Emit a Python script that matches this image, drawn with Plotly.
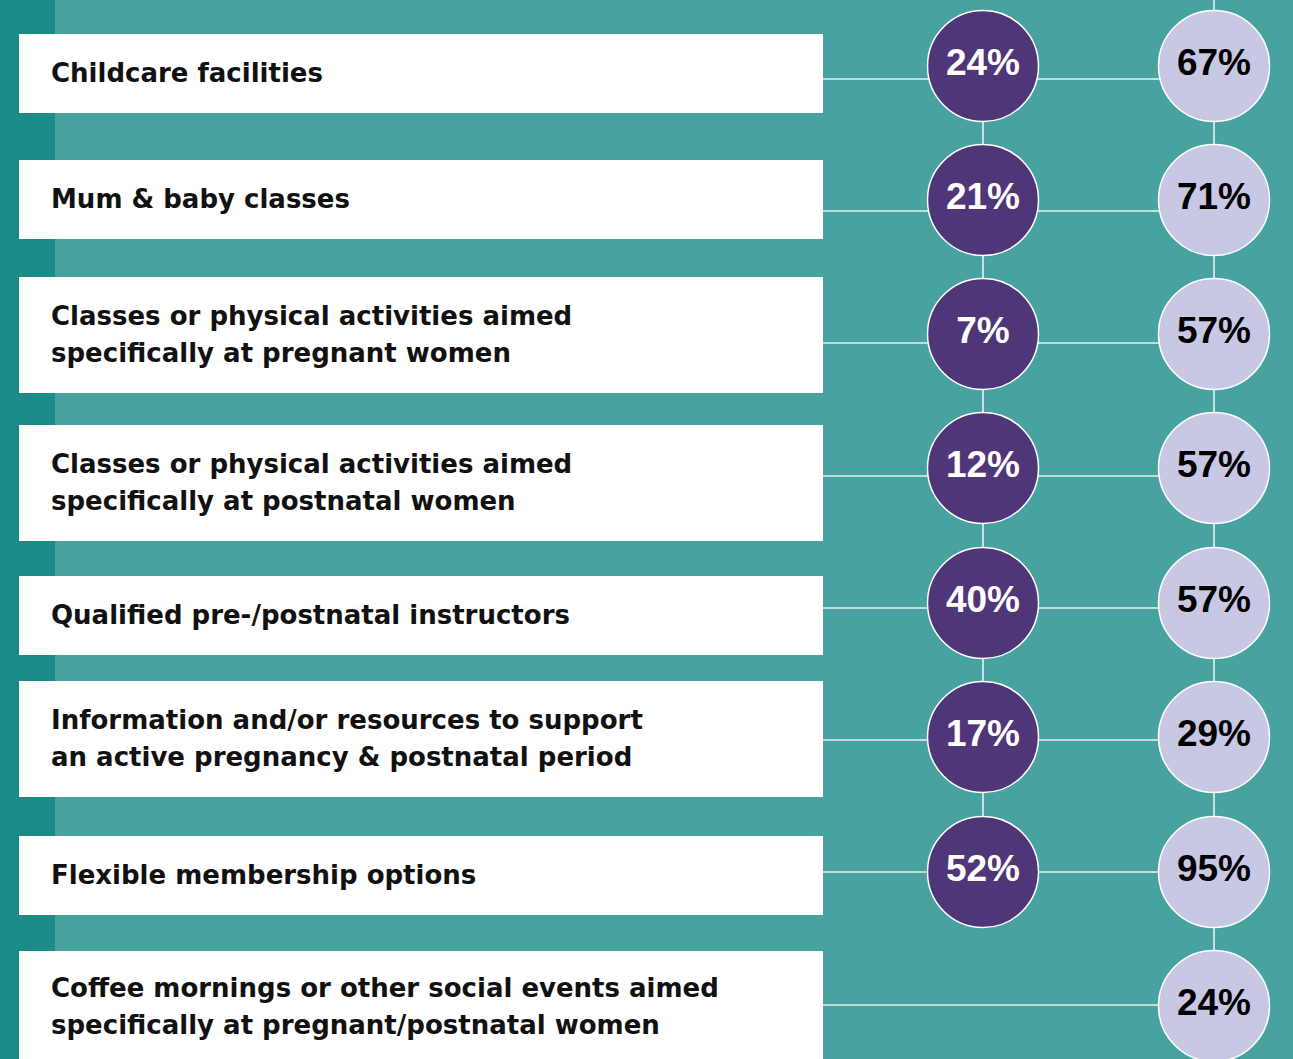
import plotly.graph_objects as go

# ---------------- data ----------------
categories = [
    "Childcare facilities",
    "Mum & baby classes",
    "Classes or physical activities aimed<br>specifically at pregnant women",
    "Classes or physical activities aimed<br>specifically at postnatal women",
    "Qualified pre-/postnatal instructors",
    "Information and/or resources to support<br>an active pregnancy & postnatal period",
    "Flexible membership options",
    "Coffee mornings or other social events aimed<br>specifically at pregnant/postnatal women",
]
pct_dark = [24, 21, 7, 12, 40, 17, 52, None]
pct_light = [67, 71, 57, 57, 57, 29, 95, 24]

# ---------------- layout constants (pixel space) ----------------
W, H = 1293, 1059
BG = "#48A3A0"
STRIP = "#1B8B88"
PURPLE = "#4F3679"
LAVENDER = "#C8C8E4"

box_top = [34, 160, 277, 425, 576, 681, 836, 951]
box_bot = [113, 239, 393, 541, 655, 797, 915, 1067]
line_y = [79, 211, 343, 476, 608, 740, 872, 1005]
circ_y = [66, 200, 334, 468, 603, 737, 872, 1006]
BOX_X0, BOX_X1 = 19, 823
COL1_X, COL2_X = 983, 1214
DIAM = 111
LINE_GAP = 37

fig = go.Figure()

shapes = [
    dict(type="rect", xref="x", yref="y", x0=0, x1=55, y0=-5, y1=H + 5,
         fillcolor=STRIP, line=dict(width=0), layer="below"),
]
for t, b in zip(box_top, box_bot):
    shapes.append(dict(type="rect", xref="x", yref="y", x0=BOX_X0, x1=BOX_X1,
                       y0=t, y1=b, fillcolor="white", line=dict(width=0), layer="below"))

# horizontal connector lines
for i, ly in enumerate(line_y):
    fig.add_trace(go.Scatter(x=[BOX_X1, COL2_X], y=[ly, ly], mode="lines",
                             line=dict(color="#E6F2F1", width=1.6),
                             hoverinfo="skip", showlegend=False))

# vertical connector lines
dark_rows = [i for i, v in enumerate(pct_dark) if v is not None]
fig.add_trace(go.Scatter(x=[COL1_X, COL1_X],
                         y=[circ_y[dark_rows[0]], circ_y[dark_rows[-1]]],
                         mode="lines", line=dict(color="#E6F2F1", width=1.6),
                         hoverinfo="skip", showlegend=False))
fig.add_trace(go.Scatter(x=[COL2_X, COL2_X], y=[-10, circ_y[len(pct_light) - 1]],
                         mode="lines", line=dict(color="#E6F2F1", width=1.6),
                         hoverinfo="skip", showlegend=False))

# dark circles
dx, dy, dt = [], [], []
for i, v in enumerate(pct_dark):
    if v is not None:
        dx.append(COL1_X)
        dy.append(circ_y[i])
        dt.append(f"{v}%")
fig.add_trace(go.Scatter(
    x=dx, y=dy, mode="markers+text", text=dt, textposition="middle center",
    marker=dict(size=DIAM, color=PURPLE, line=dict(color="white", width=1.5)),
    textfont=dict(family="Liberation Sans, Arial, sans-serif", size=37,
                  color="white", weight="bold"),
    hoverinfo="skip", showlegend=False))

# light circles
fig.add_trace(go.Scatter(
    x=[COL2_X] * len(pct_light), y=circ_y[:len(pct_light)],
    mode="markers+text", text=[f"{v}%" for v in pct_light],
    textposition="middle center",
    marker=dict(size=DIAM, color=LAVENDER, line=dict(color="white", width=1.5)),
    textfont=dict(family="Liberation Sans, Arial, sans-serif", size=37,
                  color="black", weight="bold"),
    hoverinfo="skip", showlegend=False))

annotations = []
for i, cat in enumerate(categories):
    cy = (box_top[i] + min(box_bot[i], box_top[i] + 116)) / 2
    if i == len(categories) - 1:
        cy -= 2
    parts = cat.split("<br>")
    n = len(parts)
    for k, part in enumerate(parts):
        ly = cy - 1 + (k - (n - 1) / 2) * LINE_GAP
        annotations.append(dict(
            x=49, y=ly, xref="x", yref="y", text=part, showarrow=False,
            xanchor="left", yanchor="middle", align="left",
            font=dict(family="DejaVu Sans, sans-serif", size=26,
                      color="#111111", weight="bold")))

fig.update_layout(
    width=W, height=H, margin=dict(l=0, r=0, t=0, b=0),
    paper_bgcolor=BG, plot_bgcolor=BG,
    shapes=shapes, annotations=annotations,
    xaxis=dict(range=[0, W], visible=False, fixedrange=True),
    yaxis=dict(range=[H, 0], visible=False, fixedrange=True),
)

fig.write_html("out.html", config={"displayModeBar": False},
               post_script="document.body.style.margin='0';")
